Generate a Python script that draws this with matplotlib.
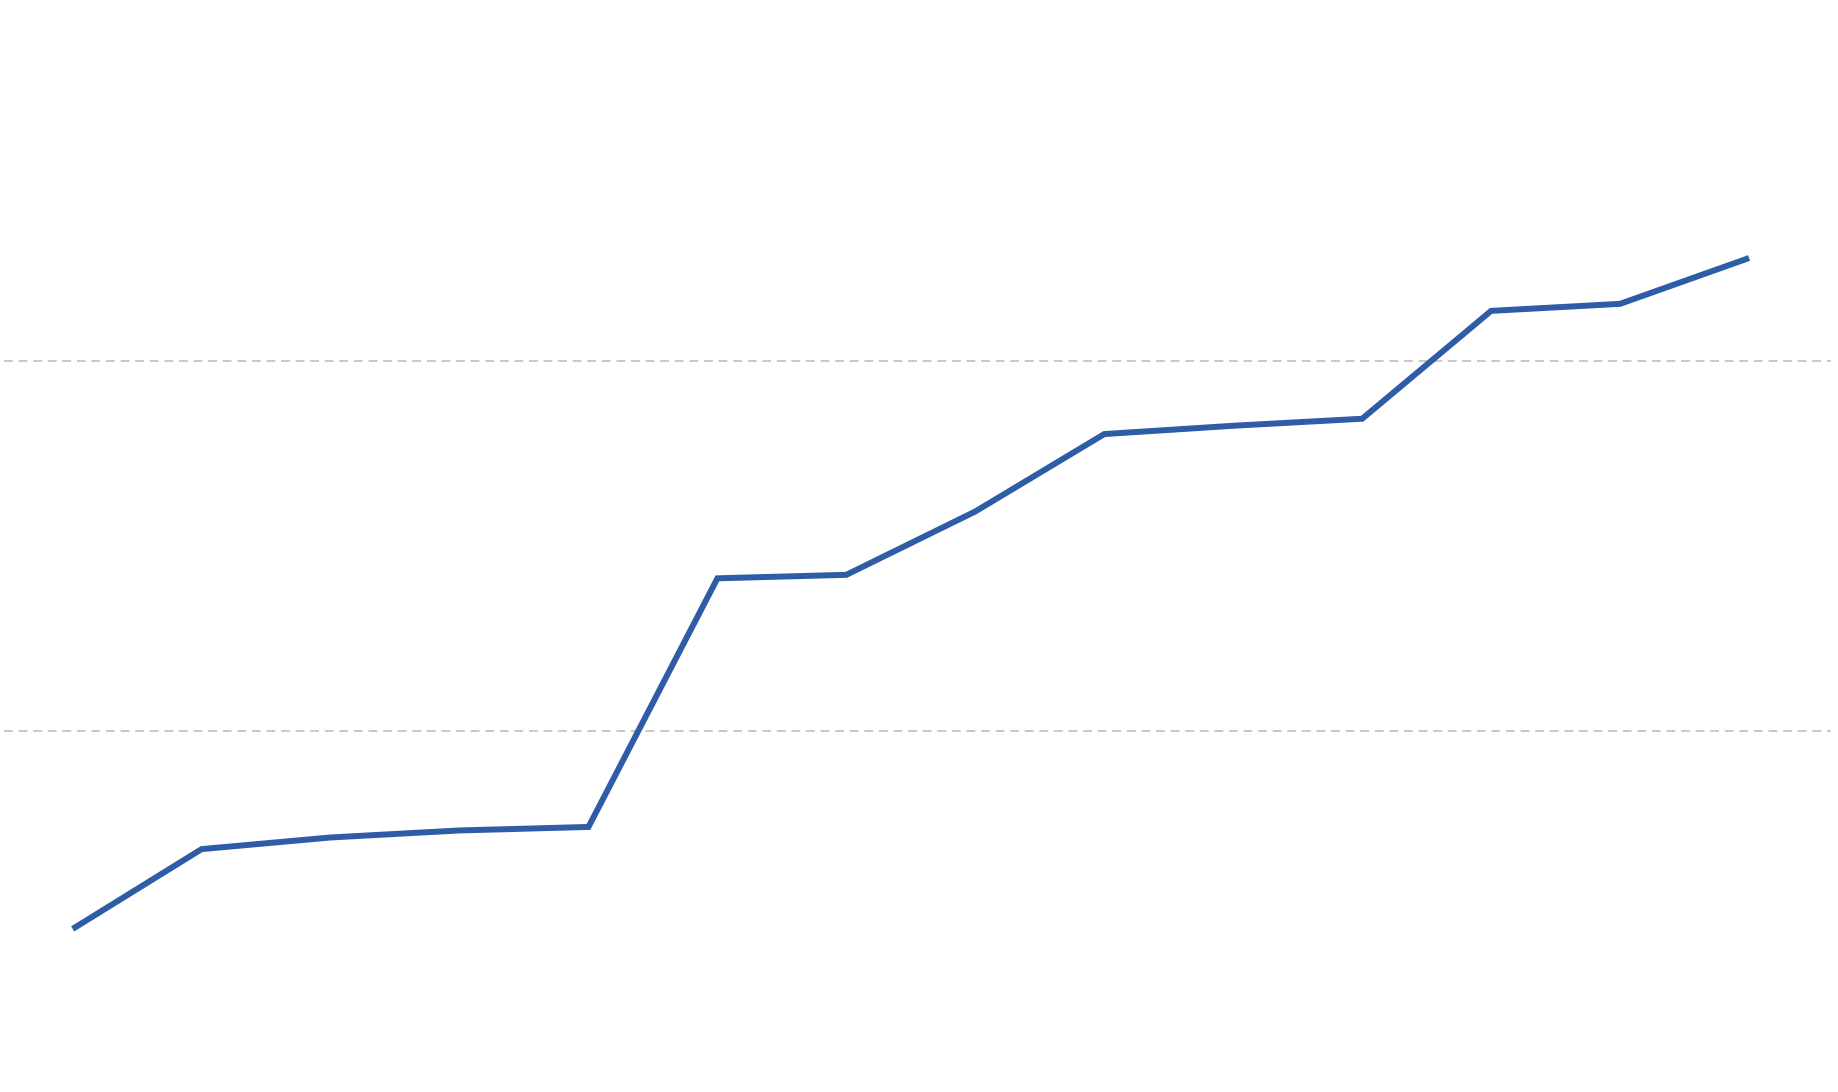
import numpy as np
import matplotlib.pyplot as plt

# values (no axis labels shown, arbitrary units)
points = list(range(14))
values = [9.27, 13.59, 14.22, 14.60, 14.79, 28.25, 28.44,
          31.87, 36.06, 36.51, 36.89, 42.73, 43.11, 45.59]
grid_levels = [20, 40]

fig = plt.figure(figsize=(18.38, 10.92), dpi=100)
ax = fig.add_axes([0, 0, 1, 1])

for g in grid_levels:
    ax.axhline(g, xmin=0.002, xmax=0.996, color='#c8c8c8', lw=1.4,
               ls=(0, (4.5, 3)), zorder=1)

ax.plot(points, values, color='#2e5ca6', lw=4.3,
        solid_capstyle='butt', solid_joinstyle='miter', zorder=2)

ax.set_xlim(-0.5636, 13.69)
ax.set_ylim(0.44, 59.56)
ax.axis('off')

fig.savefig('out.png', dpi=100, facecolor='white')
